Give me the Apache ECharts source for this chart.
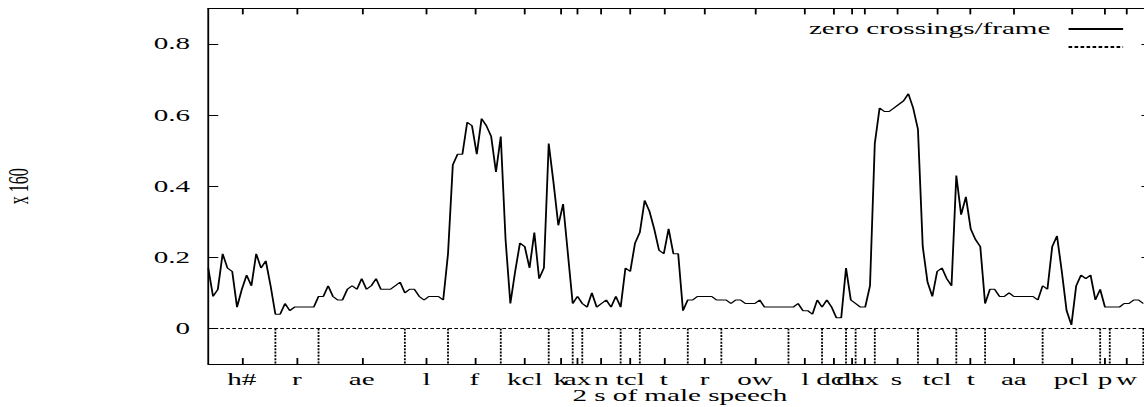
<!DOCTYPE html>
<html>
<head>
<meta charset="utf-8">
<script src="https://cdn.jsdelivr.net/npm/echarts@6/dist/echarts.min.js"></script>
<style>
  html, body { margin: 0; padding: 0; background: #fff; overflow: hidden; }
  #wrap { width: 1144px; height: 407px; overflow: hidden; }
  /* the plot is laid out in a narrow box and widened, giving the broad glyphs and heavy verticals */
  #chart { width: 629px; height: 407px; transform: scaleX(1.8188); transform-origin: 0 0; }
</style>
</head>
<body>
<div id="wrap"><div id="chart"></div></div>
<script>
// zero crossings per frame (x 160), one value per 10 ms frame
const zeroCrossings = [
  0.17, 0.09, 0.11, 0.21, 0.17, 0.16, 0.06, 0.11, 0.15, 0.12,
  0.21, 0.17, 0.19, 0.12, 0.04, 0.04, 0.07, 0.05, 0.06, 0.06,
  0.06, 0.06, 0.06, 0.09, 0.09, 0.12, 0.09, 0.08, 0.08, 0.11,
  0.12, 0.11, 0.14, 0.11, 0.12, 0.14, 0.11, 0.11, 0.11, 0.12,
  0.13, 0.10, 0.11, 0.11, 0.09, 0.08, 0.09, 0.09, 0.09, 0.08,
  0.21, 0.46, 0.49, 0.49, 0.58, 0.57, 0.49, 0.59, 0.57, 0.54,
  0.44, 0.54, 0.25, 0.07, 0.16, 0.24, 0.23, 0.17, 0.27, 0.14,
  0.17, 0.52, 0.41, 0.29, 0.35, 0.21, 0.07, 0.09, 0.07, 0.06,
  0.10, 0.06, 0.07, 0.08, 0.06, 0.09, 0.06, 0.17, 0.16, 0.24,
  0.27, 0.36, 0.33, 0.28, 0.22, 0.21, 0.28, 0.21, 0.21, 0.05,
  0.08, 0.08, 0.09, 0.09, 0.09, 0.09, 0.08, 0.08, 0.08, 0.07,
  0.08, 0.08, 0.07, 0.07, 0.07, 0.08, 0.06, 0.06, 0.06, 0.06,
  0.06, 0.06, 0.06, 0.07, 0.05, 0.05, 0.04, 0.08, 0.06, 0.08,
  0.06, 0.03, 0.03, 0.17, 0.08, 0.07, 0.06, 0.06, 0.12, 0.52,
  0.62, 0.61, 0.61, 0.62, 0.63, 0.64, 0.66, 0.62, 0.56, 0.23,
  0.13, 0.09, 0.16, 0.17, 0.14, 0.12, 0.43, 0.32, 0.37, 0.28,
  0.25, 0.23, 0.07, 0.11, 0.11, 0.09, 0.09, 0.10, 0.09, 0.09,
  0.09, 0.09, 0.09, 0.08, 0.12, 0.11, 0.23, 0.26, 0.16, 0.05,
  0.01, 0.12, 0.15, 0.14, 0.15, 0.08, 0.11, 0.06, 0.06, 0.06,
  0.06, 0.07, 0.07, 0.08, 0.08, 0.07
];

// phone segmentation: labels and boundaries (in frames)
const phones = ['h#', 'r', 'ae', 'l', 'f', 'kcl', 'k', 'ax', 'n', 'tcl', 't', 'r',
                'ow', 'l', 'dcl', 'dh', 'ax', 's', 'tcl', 't', 'aa', 'pcl', 'p', 'w'];
const phoneBounds = [0, 14, 23, 41, 50, 61, 71, 76, 78, 86, 90, 100, 107, 121,
                     128, 133, 135, 139, 148, 156, 162, 174, 186, 188, 195];

const yTicks = [0, 0.2, 0.4, 0.6, 0.8];
const yRange = [-0.1, 0.9];
const xRange = [0, 196.7];

const seriesName = 'zero crossings/frame';
const segName = 'segments';
const xTitle = '2 s of male speech';
const yTitle = 'x 160';

const FONT = "'Liberation Serif', 'Times New Roman', serif";

// label positions sit in the middle of each phone
const phoneCenters = phones.map((_, i) => (phoneBounds[i] + phoneBounds[i + 1]) / 2);
function phoneAt(v) {
  let best = 0;
  phoneCenters.forEach((c, i) => { if (Math.abs(c - v) < Math.abs(phoneCenters[best] - v)) best = i; });
  return phones[best];
}

const zcData = zeroCrossings.map((v, i) => [i, v]);

// dotted segmentation: baseline at zero plus a drop at each inner boundary
const segData = [[xRange[0], 0], [xRange[1], 0]];
phoneBounds.slice(1).forEach(b => {
  segData.push([b, '-'], [b, 0], [b, yRange[0]]);
});

const chart = echarts.init(document.getElementById('chart'), null, { renderer: 'svg' });

const xTick = { show: true, inside: true, length: 6, lineStyle: { color: '#000', width: 1 } };
const yTick = { show: true, inside: true, length: 5.5, lineStyle: { color: '#000', width: 1 } };
const lineCommon = { show: true, onZero: false, lineStyle: { color: '#000', width: 1 } };

const legendCommon = {
  right: 10.5, orient: 'vertical', align: 'right',
  itemWidth: 30, itemHeight: 10, padding: 0, selectedMode: false,
  itemStyle: { opacity: 0 }
};

chart.setOption({
  animation: false,
  backgroundColor: '#fff',
  textStyle: { fontFamily: FONT, color: '#000' },
  grid: { left: 114.5, right: -4.1, top: 8.4, bottom: 43, containLabel: false, outerBoundsMode: 'none' },
  legend: [
    Object.assign({
      data: [seriesName], top: 21,
      textStyle: { fontFamily: FONT, fontSize: 16, color: '#000', padding: [0, 5, 0, 0] }
    }, legendCommon),
    Object.assign({
      data: [segName], top: 42,
      formatter: () => '',
      textStyle: { fontFamily: FONT, fontSize: 16, color: '#000' }
    }, legendCommon)
  ],
  xAxis: [
    {
      type: 'value', position: 'bottom', min: xRange[0], max: xRange[1],
      name: xTitle, nameLocation: 'middle', nameGap: 24, nameMoveOverlap: false,
      nameTextStyle: { fontFamily: FONT, fontSize: 16, color: '#000' },
      axisLine: lineCommon,
      axisTick: Object.assign({ customValues: phoneCenters }, xTick),
      axisLabel: {
        customValues: phoneCenters, margin: 8, formatter: v => phoneAt(v),
        fontFamily: FONT, fontSize: 16, color: '#000', hideOverlap: false
      },
      splitLine: { show: false }
    },
    {
      type: 'value', position: 'top', min: xRange[0], max: xRange[1],
      axisLine: lineCommon,
      axisTick: Object.assign({ customValues: phoneCenters }, xTick),
      axisLabel: { show: false },
      splitLine: { show: false }
    }
  ],
  yAxis: [
    {
      type: 'value', position: 'left', min: yRange[0], max: yRange[1],
      name: yTitle, nameLocation: 'middle', nameRotate: 90, nameGap: 96.5, nameMoveOverlap: false,
      nameTextStyle: { fontFamily: FONT, fontSize: 16, color: '#000' },
      axisLine: lineCommon,
      axisTick: Object.assign({ customValues: yTicks }, yTick),
      axisLabel: {
        customValues: yTicks, margin: 10,
        formatter: v => (Math.abs(v) < 1e-9 ? '0' : v.toFixed(1)),
        fontFamily: FONT, fontSize: 16, color: '#000'
      },
      splitLine: { show: false }
    },
    {
      type: 'value', position: 'right', min: yRange[0], max: yRange[1],
      axisLine: lineCommon,
      axisTick: Object.assign({ customValues: yTicks }, yTick),
      axisLabel: { show: false },
      splitLine: { show: false }
    }
  ],
  series: [
    {
      name: seriesName, type: 'line', data: zcData,
      xAxisIndex: 0, yAxisIndex: 0,
      symbol: 'none', showSymbol: false, smooth: false,
      lineStyle: { color: '#000', width: 1 },
      itemStyle: { color: '#000' },
      z: 3
    },
    {
      name: segName, type: 'line', data: segData,
      xAxisIndex: 0, yAxisIndex: 0, connectNulls: false,
      symbol: 'none', showSymbol: false,
      lineStyle: { color: '#000', width: 1, type: [2, 1.3] },
      itemStyle: { color: '#000' },
      z: 2
    }
  ]
});
</script>
</body>
</html>
